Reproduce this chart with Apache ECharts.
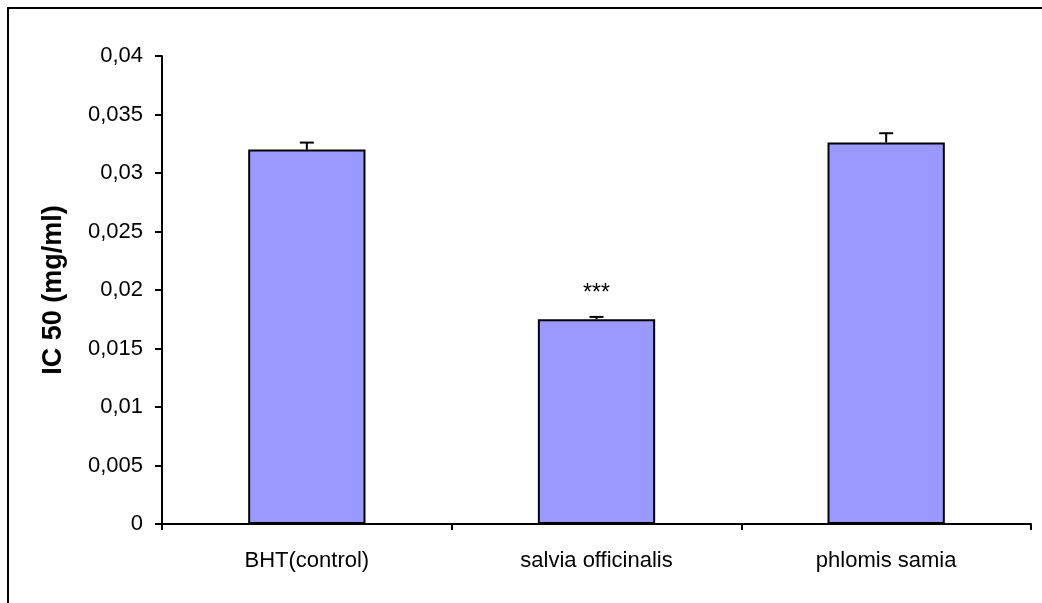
<!DOCTYPE html>
<html>
<head>
<meta charset="utf-8">
<script src="https://cdn.jsdelivr.net/npm/echarts@6/dist/echarts.min.js"></script>
<style>html,body{margin:0;padding:0;background:#fff}#c{width:1042px;height:603px}</style>
</head>
<body>
<div id="c"></div>
<script>
const categories = ['BHT(control)', 'salvia officinalis', 'phlomis samia'];
const values = [0.0320, 0.0175, 0.0326];
const errors = [0.0006, 0.0002, 0.0008];
const significance = ['', '***', ''];
const yTicks = { min: 0, max: 0.04, interval: 0.005 };
const yTitle = 'IC 50 (mg/ml)';

const chart = echarts.init(document.getElementById('c'));
const fmt = v => {
  let s = (+v.toFixed(4)).toString();
  return s.replace('.', ',');
};
chart.setOption({
  animation: false,
  backgroundColor: '#fff',
  grid: { left: 162, top: 56, right: 11, bottom: 79, containLabel: false },
  graphic: [{
    type: 'rect', shape: { x: 8, y: 8, width: 1050, height: 620 },
    style: { fill: 'none', stroke: '#000', lineWidth: 2 }, silent: true
  }],
  xAxis: {
    type: 'category', data: categories,
    axisLine: { lineStyle: { color: '#000', width: 2 } },
    axisTick: { show: true, alignWithLabel: false, length: 6, lineStyle: { color: '#000', width: 2 } },
    axisLabel: { color: '#000', fontSize: 22, fontFamily: 'Liberation Sans, Arial', margin: 26 }
  },
  yAxis: {
    type: 'value', min: yTicks.min, max: yTicks.max, interval: yTicks.interval,
    name: yTitle, nameLocation: 'middle', nameGap: 95,
    nameTextStyle: { color: '#000', fontSize: 27, fontWeight: 'bold', fontFamily: 'Liberation Sans, Arial' },
    axisLine: { show: true, lineStyle: { color: '#000', width: 2 } },
    axisTick: { show: true, length: 7, lineStyle: { color: '#000', width: 2 } },
    splitLine: { show: false },
    axisLabel: { color: '#000', fontSize: 22, fontFamily: 'Liberation Sans, Arial', margin: 19, formatter: fmt }
  },
  series: [{
    type: 'bar', data: values, barWidth: '40.5%',
    itemStyle: { color: '#9999FF', borderColor: '#000', borderWidth: 2 },
    label: {
      show: true, position: 'top', distance: 14,
      formatter: p => significance[p.dataIndex],
      color: '#000', fontSize: 23, fontFamily: 'Liberation Sans, Arial'
    },
    z: 2
  }, {
    type: 'custom', z: 3,
    data: values.map((v, i) => [i, v, v + errors[i]]),
    renderItem: (params, api) => {
      const base = api.coord([api.value(0), api.value(1)]);
      const top = api.coord([api.value(0), api.value(2)]);
      const hw = 7;
      return {
        type: 'group', children: [
          { type: 'line', shape: { x1: base[0], y1: base[1], x2: top[0], y2: top[1] }, style: { stroke: '#000', lineWidth: 2 } },
          { type: 'line', shape: { x1: top[0] - hw, y1: top[1], x2: top[0] + hw, y2: top[1] }, style: { stroke: '#000', lineWidth: 2 } }
        ]
      };
    }
  }]
});
</script>
</body>
</html>
